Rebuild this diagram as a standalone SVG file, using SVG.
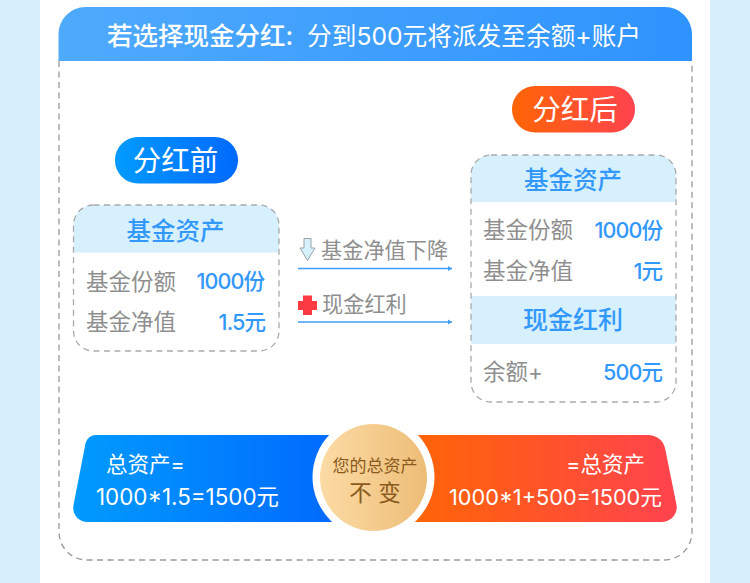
<svg xmlns="http://www.w3.org/2000/svg" width="750" height="583" viewBox="0 0 750 583">
<style>
text{font-family:"Inter","Noto Sans CJK SC",sans-serif}
.g{fill:#8f8f8f;font-size:22.500px}
.b{fill:#3398fb;font-size:21.500px;font-weight:500;text-anchor:end;letter-spacing:-0.9px}
.h{fill:#3398fb;font-size:24.500px;font-weight:500;text-anchor:middle}
.w{fill:#fff}
.d{fill:none;stroke:#999;stroke-width:1.3;stroke-dasharray:6 4.5}
.c{stroke:#aaa}
.p{fill:#d6f0fd}
.l{stroke:#3f9cf5;stroke-width:1.3;fill:none;marker-end:url(#ah)}
</style>
<defs>
<linearGradient id="gh" x1="0" x2="1" y1="0" y2="0"><stop offset="0" stop-color="#4faafc"/><stop offset="1" stop-color="#2e93fd"/></linearGradient>
<linearGradient id="gb" x1="0" x2="1" y1="0" y2="0"><stop offset="0" stop-color="#019bfe"/><stop offset="1" stop-color="#0169fe"/></linearGradient>
<linearGradient id="gr" x1="0" x2="1" y1="0" y2="0"><stop offset="0" stop-color="#ff6505"/><stop offset="1" stop-color="#ff434e"/></linearGradient>
<linearGradient id="gc" x1="0" x2="1" y1="0" y2="0"><stop offset="0" stop-color="#fcdba5"/><stop offset="1" stop-color="#edbd77"/></linearGradient>
<marker id="ah" markerUnits="userSpaceOnUse" markerWidth="5" markerHeight="6" refX="4" refY="3" orient="auto"><path d="M0 0.500L4 3L0 5.500Z" fill="#3f9cf5"/></marker>
</defs>
<rect width="750" height="583" fill="#d7eefc"/>
<rect x="40" width="670" height="583" fill="#fff"/>

<g id="panel">
<path class="d" d="M59 61V532a28 28 0 0 0 28 28H664a28 28 0 0 0 28-28V61"/>
<path d="M58.500 61V34a27 27 0 0 1 27-27H665a27 27 0 0 1 27 27V61Z" fill="url(#gh)"/>
<text x="107" y="45" class="w" font-size="25.500" font-weight="500">若选择现金分红:</text>
<text x="307" y="45" class="w" font-size="24.700">分到500元将派发至余额+账户</text>
</g>

<g id="before-tag">
<rect x="115" y="137" width="123" height="46.500" rx="23" fill="url(#gb)"/>
<text x="175.500" y="171" class="w" font-size="28.500" text-anchor="middle">分红前</text>
</g>
<g id="after-tag">
<rect x="512" y="86" width="123" height="46.500" rx="23" fill="url(#gr)"/>
<text x="575" y="120" class="w" font-size="28.500" text-anchor="middle">分红后</text>
</g>

<g id="before-card">
<path class="p" d="M73.500 252.500V225a20 20 0 0 1 20-20H259a20 20 0 0 1 20 20V252.500Z"/>
<rect class="d c" x="73.500" y="205" width="205.500" height="146" rx="20"/>
<text x="175.500" y="240" class="h">基金资产</text>
<text x="86" y="290" class="g">基金份额</text>
<text x="264" y="289" class="b">1000份</text>
<text x="86" y="330" class="g">基金净值</text>
<text x="265" y="330" class="b">1.5元</text>
</g>

<g id="after-card">
<path class="p" d="M471 202V175a20 20 0 0 1 20-20H656a20 20 0 0 1 20 20V202Z"/>
<rect class="p" x="471" y="296" width="205" height="48"/>
<rect class="d c" x="471" y="155" width="205" height="247" rx="20"/>
<text x="573" y="189" class="h">基金资产</text>
<text x="483" y="238" class="g">基金份额</text>
<text x="662" y="238" class="b">1000份</text>
<text x="483" y="279" class="g">基金净值</text>
<text x="662" y="279" class="b">1元</text>
<text x="573" y="329" class="h" style="font-size:25px">现金红利</text>
<text x="483" y="380" class="g">余额+</text>
<text x="662" y="380" class="b">500元</text>
</g>

<g id="connectors">
<path class="l" d="M298 268.500H452"/>
<path class="l" d="M298 322H452"/>
</g>
<g id="drop-label">
<path d="M304 238.500H311V248H315L307.500 260.500L300 248H304Z" fill="#d6f0fd" stroke="#9aa3a8" stroke-width="1"/>
<text x="321" y="258" class="g" style="font-size:21.200px">基金净值下降</text>
</g>
<g id="cash-label">
<path d="M303 295.500H312V301H317V310H312V315H303V310H298V301H303Z" fill="#fb3a44"/>
<text x="322" y="312" class="g" style="font-size:21.200px">现金红利</text>
</g>

<g id="total-before">
<path d="M88 435H340L340 522H88C78 522 72 514 73.500 505L85 446C86 439 90 435 96 435Z" fill="url(#gb)"/>
<text x="106" y="472" class="w" font-size="21.500">总资产=</text>
<text x="96" y="505" class="w" font-size="22.400">1000*1.5=1500元</text>
</g>
<g id="total-after">
<path d="M410 435H648C656 435 663 440 665 448L676.500 505C678 514 671 522 661 522H410Z" fill="url(#gr)"/>
<text x="645" y="472" class="w" font-size="21.500" text-anchor="end">=总资产</text>
<text x="662" y="505" class="w" font-size="21.700" text-anchor="end">1000*1+500=1500元</text>
</g>
<g id="center">
<circle cx="373.500" cy="477" r="61" fill="#fff"/>
<circle cx="373.500" cy="477.500" r="53.500" fill="url(#gc)"/>
<text x="375" y="472" font-size="17" fill="#8a5a1c" text-anchor="middle">您的总资产</text>
<text x="375" y="501" font-size="22.500" fill="#8a5a1c" text-anchor="middle">不 变</text>
</g>
</svg>
